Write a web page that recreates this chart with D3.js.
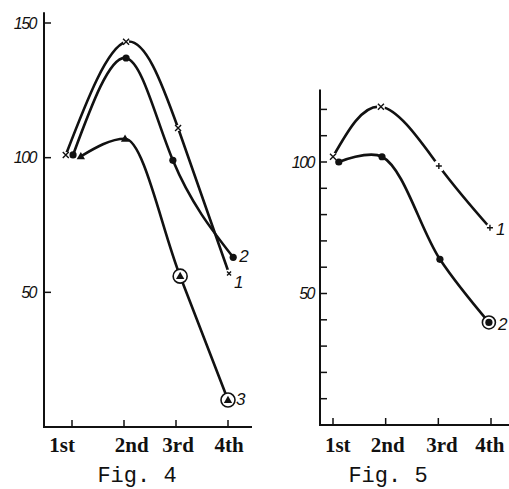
<!DOCTYPE html>
<html><head><meta charset="utf-8">
<script src="https://cdn.jsdelivr.net/npm/d3@7"></script>
<style>html,body{margin:0;padding:0;background:#fff;}svg{display:block;}</style>
</head><body>
<svg id="c" width="509" height="489"></svg>
<script>
// ---------- DATA ----------
const categories = ["1st", "2nd", "3rd", "4th"];
// Fig. 4
const f4TickPos = [1, 2, 3, 4];
const f4LabelPos = [0.81, 2.15, 3.04, 4.02];
const f4YTicks = [50, 100, 150];
const f4S1x = [0.88, 2.04, 3.04, 4.02], f4S1y = [101, 143, 111, 57];
const f4S2x = [1.02, 2.04, 2.94, 4.1], f4S2y = [101, 137, 99, 63];
const f4S3x = [1.17, 2.02, 3.08, 4.0], f4S3y = [100.5, 107, 56, 10];
const f4S3circled = [false, false, true, true];
// Fig. 5
const f5TickPos = [1, 2, 3, 4];
const f5LabelPos = [1.09, 2.04, 3.07, 3.98];
const f5YTicks = [10, 20, 30, 40, 50, 60, 70, 80, 90, 100, 110, 120];
const f5YLabels = [50, 100];
const f5S1x = [1.0, 1.91, 3.01, 3.98], f5S1y = [102, 121, 98.5, 75];
const f5S1sym = ["x", "x", "+", "+"];
const f5S2x = [1.11, 1.93, 3.03, 3.96], f5S2y = [100, 102, 63, 39];
const f5S2circled = [false, false, false, true];
const captions = ["Fig. 4", "Fig. 5"];

// ---------- DRAW ----------
const svg = d3.select("#c");
const ink = "#111";

function panel(o) {
  const g = svg.append("g");
  const x = d3.scaleLinear().domain([1, 4]).range(o.xr);
  const y = d3.scaleLinear().domain([0, o.ymax]).range(o.yr);
  g.append("line").attr("x1", o.xr0).attr("x2", o.xr0)
    .attr("y1", y(o.ytop)).attr("y2", y(0) + 1)
    .attr("stroke", ink).attr("stroke-width", 2);
  g.append("line").attr("x1", o.xr0 - 1).attr("x2", o.xend)
    .attr("y1", y(0)).attr("y2", y(0))
    .attr("stroke", ink).attr("stroke-width", 2);
  g.selectAll(".yt").data(o.yticks).join("line")
    .attr("x1", o.xr0).attr("x2", o.xr0 + 7)
    .attr("y1", d => y(d)).attr("y2", d => y(d))
    .attr("stroke", ink).attr("stroke-width", 1.5);
  g.selectAll(".yl").data(o.ylabels).join("text")
    .attr("x", o.ylx).attr("y", d => y(d)).attr("dy", "0.36em")
    .attr("text-anchor", "end")
    .attr("font-family", "Liberation Sans, Arial, sans-serif")
    .attr("font-style", "italic").attr("font-size", 16)
    .attr("letter-spacing", -1.5)
    .attr("fill", ink).text(d => d);
  g.selectAll(".xt").data(o.xticks).join("line")
    .attr("x1", d => x(d)).attr("x2", d => x(d))
    .attr("y1", y(0)).attr("y2", y(0) - 7)
    .attr("stroke", ink).attr("stroke-width", 1.5);
  g.selectAll(".xl").data(categories).join("text")
    .attr("x", (d, i) => x(o.labelPos[i])).attr("y", 452)
    .attr("text-anchor", "middle")
    .attr("font-family", "Liberation Serif, Times New Roman, serif")
    .attr("font-size", 21).attr("font-weight", "bold")
    .attr("fill", ink).text(d => d);
  g.append("text").attr("x", o.capx).attr("y", 482)
    .attr("text-anchor", "middle")
    .attr("font-family", "Liberation Mono, Courier New, monospace")
    .attr("font-size", 22).attr("fill", ink).text(o.caption);
  return { g, x, y };
}

function series(p, xs, ys, curve) {
  const pts = xs.map((v, i) => [p.x(v), p.y(ys[i])]);
  p.g.append("path").attr("d", d3.line().curve(curve)(pts))
    .attr("fill", "none").attr("stroke", ink).attr("stroke-width", 2.6)
    .attr("stroke-linecap", "round");
  return pts;
}
function gap(p, pt, r) {
  p.g.append("circle").attr("cx", pt[0]).attr("cy", pt[1]).attr("r", r).attr("fill", "#fff");
}
function cross(p, pt, s, plus) {
  const d = plus ? `M${pt[0]-s},${pt[1]}H${pt[0]+s}M${pt[0]},${pt[1]-s}V${pt[1]+s}`
    : `M${pt[0]-s},${pt[1]-s}L${pt[0]+s},${pt[1]+s}M${pt[0]-s},${pt[1]+s}L${pt[0]+s},${pt[1]-s}`;
  p.g.append("path").attr("d", d).attr("stroke", ink).attr("stroke-width", 1.4).attr("fill", "none");
}
function dot(p, pt, r) {
  p.g.append("circle").attr("cx", pt[0]).attr("cy", pt[1]).attr("r", r).attr("fill", ink);
}
function tri(p, pt, s) {
  p.g.append("path").attr("d", d3.symbol(d3.symbolTriangle, s)())
    .attr("transform", `translate(${pt[0]},${pt[1] + 0.5})`).attr("fill", ink);
}
function ring(p, pt, r) {
  p.g.append("circle").attr("cx", pt[0]).attr("cy", pt[1]).attr("r", r)
    .attr("fill", "#fff").attr("stroke", ink).attr("stroke-width", 1.6);
}
function lab(p, xx, yy, t) {
  p.g.append("text").attr("x", xx).attr("y", yy).attr("dy", "0.36em")
    .attr("font-family", "Liberation Sans, Arial, sans-serif").attr("font-style", "italic")
    .attr("font-size", 17).attr("fill", ink).text(t);
}

// Fig 4
const p4 = panel({ xr: [72, 228], yr: [427, 23], ymax: 150, xr0: 44, ytop: 154, xend: 252,
  yticks: f4YTicks, ylabels: f4YTicks, ylx: 36, xticks: f4TickPos, labelPos: f4LabelPos,
  capx: 137, caption: captions[0] });
const a1 = series(p4, f4S1x, f4S1y, d3.curveNatural);
const a2 = series(p4, f4S2x, f4S2y, d3.curveNatural);
const a3 = series(p4, f4S3x, f4S3y, d3.curveMonotoneX);
a1.forEach((pt, i) => { gap(p4, pt, i === 3 ? 4 : 3); cross(p4, pt, i === 3 ? 2 : 3, false); });
a2.forEach(pt => dot(p4, pt, 3.6));
a3.forEach((pt, i) => { if (f4S3circled[i]) ring(p4, pt, 7); tri(p4, pt, 30); });
lab(p4, a2[3][0] + 6, a2[3][1] - 1, "2");
lab(p4, a1[3][0] + 5, a1[3][1] + 8, "1");
lab(p4, a3[3][0] + 8, a3[3][1] - 1, "3");

// Fig 5
const p5 = panel({ xr: [333, 491], yr: [425, 162], ymax: 100, xr0: 320, ytop: 127.6, xend: 509,
  yticks: f5YTicks, ylabels: f5YLabels, ylx: 314, xticks: f5TickPos, labelPos: f5LabelPos,
  capx: 388, caption: captions[1] });
const b1 = series(p5, f5S1x, f5S1y, d3.curveNatural);
const b2 = series(p5, f5S2x, f5S2y, d3.curveCatmullRom.alpha(0.5));
b1.forEach((pt, i) => { gap(p5, pt, i === 2 ? 6 : 4); cross(p5, pt, 3, f5S1sym[i] === "+"); });
b2.forEach((pt, i) => { if (f5S2circled[i]) ring(p5, pt, 6.5); dot(p5, pt, 3.6); });
lab(p5, b1[3][0] + 6, b1[3][1] + 1, "1");
lab(p5, b2[3][0] + 9, b2[3][1] + 1, "2");
</script>
</body></html>
